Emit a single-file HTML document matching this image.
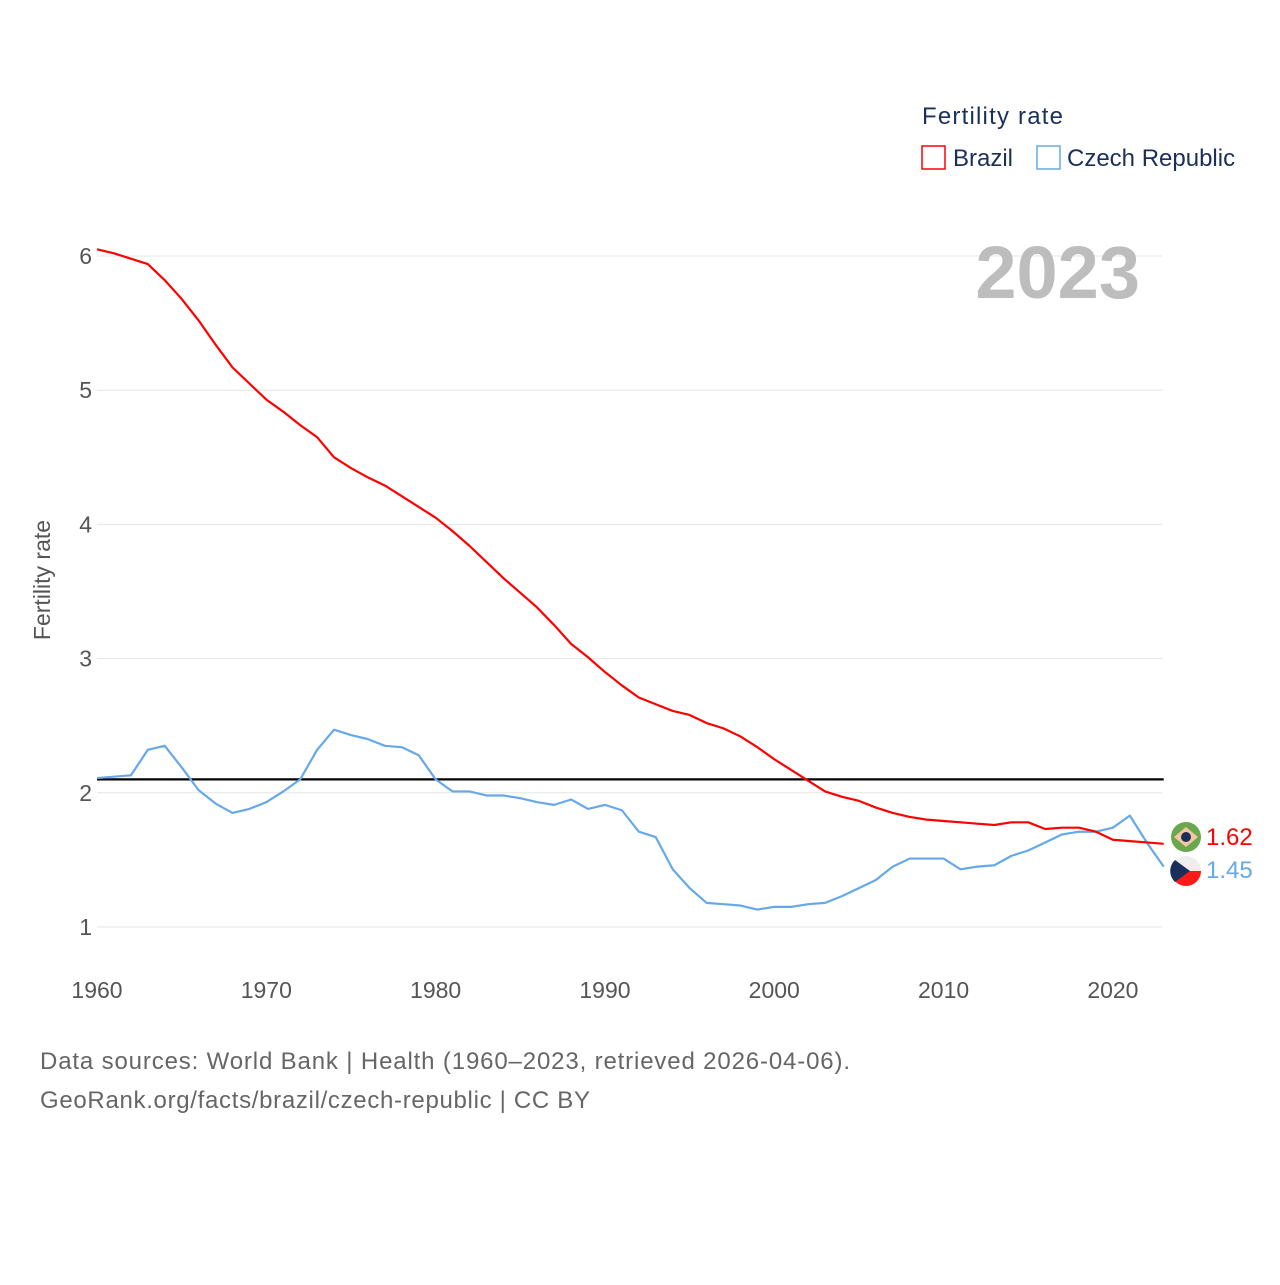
<!DOCTYPE html>
<html><head><meta charset="utf-8"><style>
body{margin:0;background:#fff;}
svg text{font-family:"Liberation Sans",sans-serif;}
</style></head><body>
<svg id="chart" width="1280" height="1280" viewBox="0 0 1280 1280">
<g id="grid"></g>
<g id="yticks"></g>
<g id="xticks"></g>
<text x="1140" y="298" text-anchor="end" font-size="74" font-weight="bold" fill="#bdbdbd">2023</text>
<text transform="translate(50,580) rotate(-90)" text-anchor="middle" font-size="23" fill="#555">Fertility rate</text>
<g id="series"></g>
<g>
<text x="922" y="124" font-size="24" fill="#1b2f5b" textLength="141">Fertility rate</text>
<g><rect x="922" y="146" width="23" height="23" fill="none" stroke="#ff0000" stroke-width="1.5"/><text x="953" y="166" font-size="24" fill="#1b2f5b">Brazil</text></g>
<g><rect x="1037" y="146" width="23" height="23" fill="none" stroke="#66a8e8" stroke-width="1.5"/><text x="1067" y="166" font-size="24" fill="#1b2f5b">Czech Republic</text></g>
</g>
<g><circle cx="1186" cy="837" r="15" fill="#6aa84f"/><polygon points="1186,827 1198,837 1186,847 1174,837" fill="#f4c7a0"/><circle cx="1186" cy="837" r="5" fill="#1b2f5b"/></g>
<g><circle cx="1186" cy="871" r="15" fill="#eee"/><path d="M1171,871 A15,15 0 0 0 1201,871 Z" fill="#ff1a1a"/><path d="M1175,860 L1190,871 L1175,882 A15,15 0 0 1 1175,860 Z" fill="#1b2f5b"/></g>
<text x="1206" y="845" font-size="24" fill="#ff0000">1.62</text>
<text x="1206" y="878" font-size="24" fill="#66a8e8">1.45</text>
<text x="40" y="1069" font-size="24" fill="#666" textLength="810">Data sources: World Bank | Health (1960–2023, retrieved 2026-04-06).</text>
<text x="40" y="1108" font-size="24" fill="#666" textLength="550">GeoRank.org/facts/brazil/czech-republic | CC BY</text>
</svg>
<script>
const years=[];for(let y=1960;y<=2023;y++)years.push(y);
const brazil=[6.05,6.02,5.98,5.94,5.82,5.68,5.52,5.34,5.17,5.05,4.93,4.84,4.74,4.65,4.50,4.42,4.35,4.29,4.21,4.13,4.05,3.95,3.84,3.72,3.60,3.49,3.38,3.25,3.11,3.01,2.90,2.80,2.71,2.66,2.61,2.58,2.52,2.48,2.42,2.34,2.25,2.17,2.09,2.01,1.97,1.94,1.89,1.85,1.82,1.80,1.79,1.78,1.77,1.76,1.78,1.78,1.73,1.74,1.74,1.71,1.65,1.64,1.63,1.62];
const czech=[2.11,2.12,2.13,2.32,2.35,2.19,2.02,1.92,1.85,1.88,1.93,2.01,2.10,2.32,2.47,2.43,2.40,2.35,2.34,2.28,2.10,2.01,2.01,1.98,1.98,1.96,1.93,1.91,1.95,1.88,1.91,1.87,1.71,1.67,1.43,1.29,1.18,1.17,1.16,1.13,1.15,1.15,1.17,1.18,1.23,1.29,1.35,1.45,1.51,1.51,1.51,1.43,1.45,1.46,1.53,1.57,1.63,1.69,1.71,1.71,1.74,1.83,1.63,1.45];
const yTicks=[1,2,3,4,5,6];
const xTicks=[1960,1970,1980,1990,2000,2010,2020];
const replacement=2.1;
const NS="http://www.w3.org/2000/svg";
const X=y=>97+(y-1960)*(1163.7-97)/63;
const Y=v=>927-(v-1)*134.2;
function mk(tag,attrs,parent){const e=document.createElementNS(NS,tag);for(const k in attrs)e.setAttribute(k,attrs[k]);parent.appendChild(e);return e;}
const grid=document.getElementById('grid'),yt=document.getElementById('yticks'),xt=document.getElementById('xticks'),ser=document.getElementById('series');
yTicks.forEach(v=>{
 const l=mk('line',{x1:97,x2:1162,y1:Y(v),y2:Y(v),stroke:'#e6e6e6','stroke-width':1},grid);
 
 
 const t=mk('text',{x:92,y:Y(v)+8,'text-anchor':'end','font-size':23,fill:'#555'},yt);
 t.textContent=v;
 
 
});
xTicks.forEach(v=>{
 const t=mk('text',{x:X(v),y:998,'text-anchor':'middle','font-size':23,fill:'#555'},xt);
 t.textContent=v;
 
 
});
const rl=mk('line',{x1:X(1960),x2:X(2023),y1:Y(replacement),y2:Y(replacement),stroke:'#000','stroke-width':2.2},ser);


function line(data,color,name){
 const p=mk('polyline',{points:data.map((v,i)=>X(years[i])+','+Y(v)).join(' '),fill:'none',stroke:color,'stroke-width':2.2,'stroke-linejoin':'round'},ser);
 
 
}
line(czech,'#66a8e8','line-czech-republic');
line(brazil,'#ff0000','line-brazil');
</script>
</body></html>
